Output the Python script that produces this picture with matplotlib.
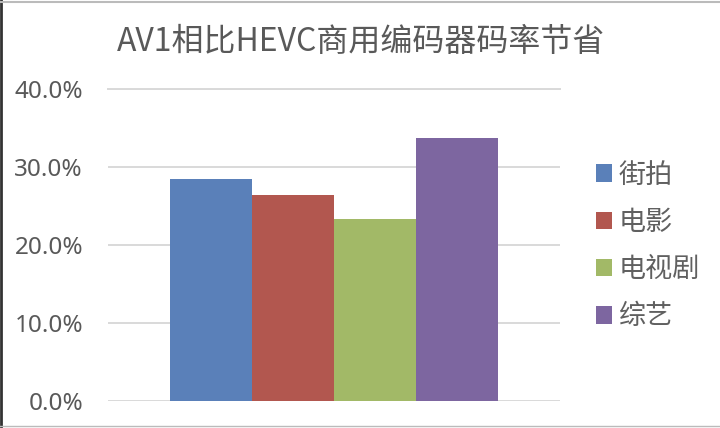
import matplotlib
matplotlib.use("Agg")
import matplotlib.pyplot as plt
from matplotlib.ticker import FuncFormatter
from matplotlib.lines import Line2D

plt.rcParams['font.family'] = ['Noto Sans CJK SC', 'DejaVu Sans']

title = "AV1相比HEVC商用编码器码率节省"
series = ["街拍", "电影", "电视剧", "综艺"]
values = [0.284, 0.264, 0.233, 0.337]
colors = ["#5A80B9", "#B2574F", "#A2B967", "#7D66A0"]
yticks = [0.0, 0.1, 0.2, 0.3, 0.4]

fig = plt.figure(figsize=(7.2, 4.28), dpi=100)
ax = fig.add_axes([108/720, 1-401/428, (560-108)/720, (401-89)/428])

bars = []
for i, (name, v, c) in enumerate(zip(series, values, colors)):
    b = ax.bar(i, v, width=1.0, color=c, label=name, zorder=3)
    bars.append(b)

ax.set_xlim(-1.25, 4.25)
ax.set_ylim(0, 0.4)
ax.set_yticks(yticks)
ax.yaxis.set_major_formatter(FuncFormatter(lambda y, _: f"{y*100:.1f}%"))
ax.set_xticks([])
ax.grid(axis='y', color='#D9D9D9', linewidth=1.4, zorder=0)
ax.set_axisbelow(True)
for s in ax.spines.values():
    s.set_visible(False)
ax.tick_params(axis='y', length=0, pad=18, labelsize=17.5, labelcolor='#595959')
for lbl in ax.get_yticklabels():
    lbl.set_family(['Noto Sans', 'DejaVu Sans'])
ax.axhline(0.4, color='#D9D9D9', linewidth=1.4, zorder=0, clip_on=False)

fig.text(0.501, 1-42/428, title, ha='center', va='center', fontsize=23, color='#595959')

leg = fig.legend(handles=[b[0] for b in bars], labels=series,
                 loc='center left', bbox_to_anchor=(585/720, 1-246/428),
                 frameon=False, fontsize=19.5, handlelength=0.6, handleheight=0.6,
                 handletextpad=0.25, labelspacing=0.75, borderaxespad=0)
for t in leg.get_texts():
    t.set_color('#606060')

fig.add_artist(Line2D([0.0015, 0.0015], [0, 1], transform=fig.transFigure, color='#333333', linewidth=2))
fig.add_artist(Line2D([0, 1], [0.996, 0.996], transform=fig.transFigure, color='#BBBBBB', linewidth=1.5))
fig.add_artist(Line2D([0, 1], [0.004, 0.004], transform=fig.transFigure, color='#BBBBBB', linewidth=1))

fig.savefig("out.png", dpi=100)
